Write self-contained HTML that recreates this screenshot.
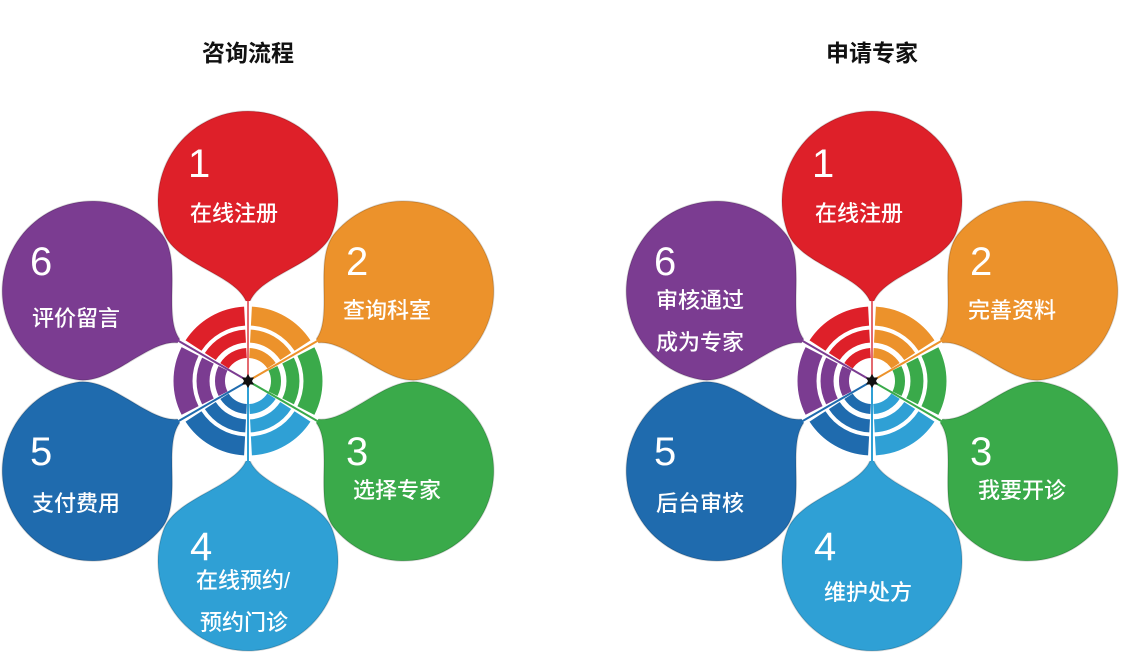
<!DOCTYPE html>
<html><head><meta charset="utf-8">
<style>
html,body{margin:0;padding:0;background:#fff;}
svg{display:block;}
.t{font-family:"Liberation Sans","Noto Sans CJK SC",sans-serif;fill:#fff;font-size:22px;font-weight:500;}
.n{font-family:"Liberation Sans","DejaVu Sans",sans-serif;fill:#fff;font-size:40px;font-weight:300;}
.h{font-family:"Liberation Sans","Noto Sans CJK SC",sans-serif;fill:#111;font-size:23px;font-weight:bold;}
</style></head>
<body>
<svg width="1122" height="653" viewBox="0 0 1122 653" xmlns="http://www.w3.org/2000/svg">
<defs>
<path id="petal" d="M0,-72 C3,-106 73,-114 84.9,-150 A90 90 0 1 0 -84.9,-150 C-73,-114 -3,-106 0,-72Z"/>
<g id="sec">
<path d="M-54.5,-35.4 A65 65 0 0 1 -3.4,-64.9" fill="none" stroke-width="19"/>
<path d="M-37.7,-24.5 A45 45 0 0 1 -2.4,-44.9" fill="none" stroke-width="13"/>
<path d="M-23.5,-15.2 A28 28 0 0 1 -1.5,-28.0" fill="none" stroke-width="10"/>
</g>
<g id="flower">
<g stroke="rgba(0,0,0,0.15)" stroke-width="1.5">
<use href="#petal" fill="#de2029"/>
<use href="#petal" fill="#ec922b" transform="rotate(60)"/>
<use href="#petal" fill="#3aaa4a" transform="rotate(120)"/>
<use href="#petal" fill="#2fa0d5" transform="rotate(180)"/>
<use href="#petal" fill="#1f6bae" transform="rotate(240)"/>
<use href="#petal" fill="#7b3c91" transform="rotate(300)"/>
</g>
<circle r="80" fill="#fff"/>
<g stroke="#de2029"><use href="#sec"/><line x1="0" y1="0" x2="0" y2="-80" stroke-width="2" stroke="#e46a70"/></g>
<g stroke="#ec922b" transform="rotate(60)"><use href="#sec"/><line x1="0" y1="0" x2="0" y2="-80" stroke-width="2"/></g>
<g stroke="#3aaa4a" transform="rotate(120)"><use href="#sec"/><line x1="0" y1="0" x2="0" y2="-80" stroke-width="2"/></g>
<g stroke="#2fa0d5" transform="rotate(180)"><use href="#sec"/><line x1="0" y1="0" x2="0" y2="-80" stroke-width="2"/></g>
<g stroke="#1f6bae" transform="rotate(240)"><use href="#sec"/><line x1="0" y1="0" x2="0" y2="-80" stroke-width="2"/></g>
<g stroke="#7b3c91" transform="rotate(300)"><use href="#sec"/><line x1="0" y1="0" x2="0" y2="-80" stroke-width="2"/></g>
<polygon points="0,-7 2,-3.5 6,-3.5 4,0 6,3.5 2,3.5 0,7 -2,3.5 -6,3.5 -4,0 -6,-3.5 -2,-3.5" fill="#111"/>
</g>
</defs>

<text class="h" x="248" y="61" text-anchor="middle">咨询流程</text>
<text class="h" x="872" y="61" text-anchor="middle">申请专家</text>

<use href="#flower" transform="translate(248,381)"/>
<use href="#flower" transform="translate(872,381)"/>

<text class="n" x="188" y="177">1</text>
<text class="t" x="190" y="221">在线注册</text>
<text class="n" x="346" y="275">2</text>
<text class="t" x="343" y="318">查询科室</text>
<text class="n" x="346" y="465">3</text>
<text class="t" x="353" y="498">选择专家</text>
<text class="n" x="190" y="560">4</text>
<text class="t" x="196" y="588">在线预约/</text>
<text class="t" x="200" y="630">预约门诊</text>
<text class="n" x="30" y="465">5</text>
<text class="t" x="32" y="511">支付费用</text>
<text class="n" x="30" y="275">6</text>
<text class="t" x="32" y="326">评价留言</text>

<text class="n" x="812" y="177">1</text>
<text class="t" x="815" y="221">在线注册</text>
<text class="n" x="970" y="275">2</text>
<text class="t" x="968" y="318">完善资料</text>
<text class="n" x="970" y="465">3</text>
<text class="t" x="978" y="498">我要开诊</text>
<text class="n" x="814" y="560">4</text>
<text class="t" x="824" y="600">维护处方</text>
<text class="n" x="654" y="465">5</text>
<text class="t" x="656" y="511">后台审核</text>
<text class="n" x="654" y="275">6</text>
<text class="t" x="656" y="308">审核通过</text>
<text class="t" x="656" y="350">成为专家</text>
</svg>
</body></html>
